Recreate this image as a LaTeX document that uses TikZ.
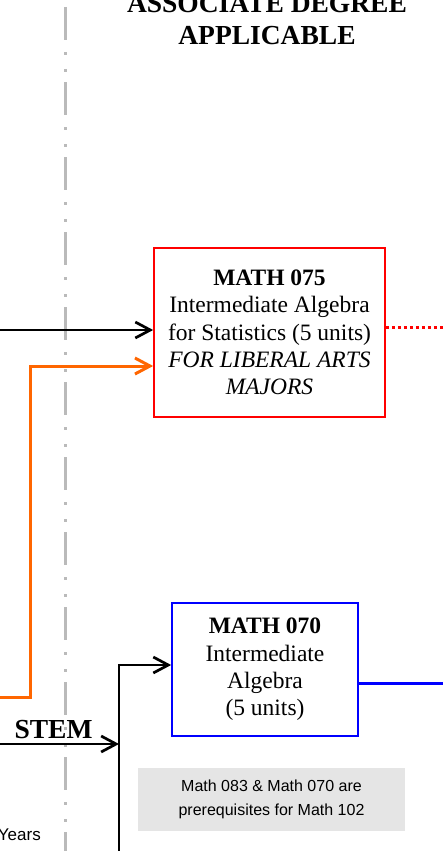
\documentclass[tikz,border=0pt]{standalone}
\usepackage{fontspec}
\setmainfont{Liberation Serif}
\setsansfont{Liberation Sans}
\usetikzlibrary{
    arrows.meta,
    positioning,
    calc
}

\begin{document}
\begin{tikzpicture}[
    x=1pt, y=-1pt,
    course/.style={rectangle, draw, line width=1.7pt, inner sep=0pt, align=center, font=\fontsize{23.5}{27.3}\selectfont},
    note/.style={rectangle, fill=black!10, inner sep=0pt, minimum width=267pt, minimum height=63pt, align=center, font=\sffamily\fontsize{16}{24}\selectfont},
    head/.style={anchor=base, inner sep=0pt, font=\bfseries\fontsize{27.5}{32}\selectfont},
    arrow/.style={-{Straight Barb[length=15pt,width=16pt]}, line width=2.7pt},
    divider/.style={black!27, line width=3pt, dash pattern=on 33pt off 12pt on 3pt off 14pt on 3pt off 10pt}
]
\useasboundingbox (0,0) rectangle (443,851);

% column divider
\coordinate (divtop) at (65,7);
\coordinate (divbot) at (65,851);
\draw[divider] (divtop) -- (divbot);

\node[head] (head1) at (267,13) {ASSOCIATE DEGREE};
\node[head] (head2) at (267,45) {APPLICABLE};

\node[course, draw=red, minimum width=231pt, minimum height=169pt] (m075) at (269.5,332.5)
    {\textbf{MATH 075}\\Intermediate Algebra\\for Statistics (5 units)\\\textit{FOR LIBERAL ARTS}\\\textit{MAJORS}};
\node[course, draw=blue, minimum width=186pt, minimum height=133pt] (m070) at (265,669.5)
    {\textbf{MATH 070}\\Intermediate\\Algebra\\(5 units)};
\node[note] (prereq) at (271.5,799.5) {Math 083 \& Math 070 are\\prerequisites for Math 102};

% incoming
\coordinate (in075) at (0,330);
\draw[arrow] (in075) -- (in075 -| m075.west);

\coordinate (orstart) at (0,697);
\coordinate (orbend) at (30,697);
\coordinate (ortop) at (30,366);
\draw[arrow, color={rgb,255:red,255;green,102;blue,0}, line width=3pt] (orstart) -- (orbend) -- (ortop) -- (ortop -| m075.west);

% STEM
\coordinate (stemin) at (0,744);
\coordinate (stemjoin) at (119,744);
\coordinate (vbot) at (119,851);
\coordinate (vtop) at (119,665);
\draw[arrow] (stemin) -- node[above=4pt, xshift=-6pt, inner sep=0pt, font=\bfseries\fontsize{27.5}{32}\selectfont] (stemlbl) {STEM} (stemjoin);
\draw[arrow] (vbot) -- (vtop) -- (vtop -| m070.west);

\node[anchor=base east, inner sep=0pt, font=\sffamily\fontsize{17}{20}\selectfont] (years) at (41,840) {Years};

% outgoing
\coordinate (out075) at (443,327);
\coordinate (out070) at (443,683);
\draw[red, line width=3pt, dash pattern=on 3pt off 3pt] (m075.east |- out075) -- (out075);
\draw[blue, line width=3pt] (m070.east |- out070) -- (out070);
\end{tikzpicture}
\end{document}
